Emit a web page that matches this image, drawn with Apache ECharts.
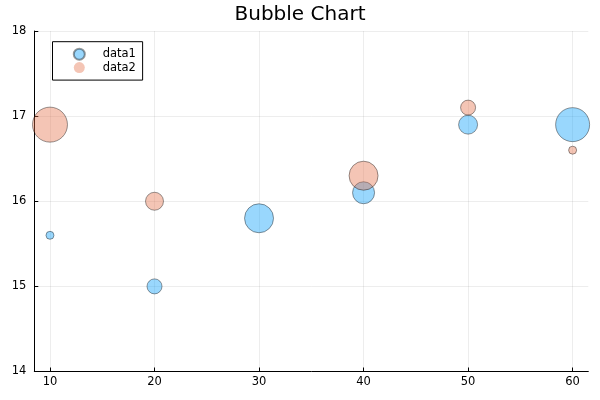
<!DOCTYPE html>
<html><head><meta charset="utf-8">
<script src="https://cdn.jsdelivr.net/npm/echarts@6/dist/echarts.min.js"></script>
<style>html,body{margin:0;padding:0;background:#fff}#c{width:600px;height:400px}</style>
</head><body><div id="c"></div>
<script>
const xValues = [10, 20, 30, 40, 50, 60];
const data1Y = [15.6, 15.0, 15.8, 16.1, 16.9, 16.9];
const data1Size = [8, 15, 29, 22, 19, 34];
const data2Y = [16.9, 16.0, null, 16.3, 17.1, 16.6];
const data2Size = [35, 18, 0, 29, 15, 8];
const xTicks = [10, 20, 30, 40, 50, 60];
const yTicks = [14, 15, 16, 17, 18];

function pts(ys, sizes) {
  const out = [];
  xValues.forEach((x, i) => { if (ys[i] !== null) out.push([x, ys[i], sizes[i]]); });
  return out;
}
const font = 'DejaVu Sans';
const chart = echarts.init(document.getElementById('c'), null, {renderer: 'canvas'});
const axisCommon = {
  axisLine: {show: true, onZero: false, lineStyle: {color: '#000', width: 1}},
  axisTick: {show: true, inside: true, length: 4, lineStyle: {color: '#000'}},
  splitLine: {show: true, lineStyle: {color: 'rgba(0,0,0,0.07)', width: 1}},
  axisLabel: {color: '#000', fontFamily: font, fontSize: 11.5}
};
chart.setOption({
  animation: false,
  title: {text: 'Bubble Chart', left: 'center', top: 0, textStyle: {fontFamily: font, fontSize: 20, fontWeight: 'normal', color: '#000'}},
  grid: {left: 34.3, right: 11.7, top: 31, bottom: 28.5, containLabel: false},
  xAxis: Object.assign({}, axisCommon, {
    type: 'value', min: 8.5, max: 61.5,
    axisTick: Object.assign({}, axisCommon.axisTick, {customValues: xTicks}),
    axisLabel: Object.assign({}, axisCommon.axisLabel, {customValues: xTicks, margin: 5}),
    splitLine: Object.assign({}, axisCommon.splitLine)
  }),
  yAxis: Object.assign({}, axisCommon, {
    type: 'value', min: yTicks[0], max: yTicks[yTicks.length - 1], interval: 1,
    axisLabel: Object.assign({}, axisCommon.axisLabel, {margin: 8})
  }),
  legend: {
    left: 52.5, top: 41.7, orient: 'vertical',
    borderColor: '#000', borderWidth: 1, borderRadius: 0,
    padding: [5.8, 6.7, 5.8, 20.3], itemGap: 0, itemWidth: 11, itemHeight: 11,
    icon: 'circle',
    data: [{name: 'data1'}, {name: 'data2', itemStyle: {borderWidth: 0}}],
    textStyle: {fontFamily: font, fontSize: 11.5, color: '#000', lineHeight: 13.4, padding: [0, 0, 0, 12.9]}
  },
  series: [
    {name: 'data1', type: 'scatter', data: pts(data1Y, data1Size),
     symbolSize: v => v[2],
     itemStyle: {color: 'rgba(0,154,250,0.5)', borderColor: 'rgba(0,0,0,0.5)', borderWidth: 1}},
    {name: 'data2', type: 'scatter', data: pts(data2Y, data2Size),
     symbolSize: v => v[2],
     itemStyle: {color: 'rgba(227,111,71,0.5)', borderColor: 'rgba(0,0,0,0.5)', borderWidth: 1}}
  ]
});
</script></body></html>
